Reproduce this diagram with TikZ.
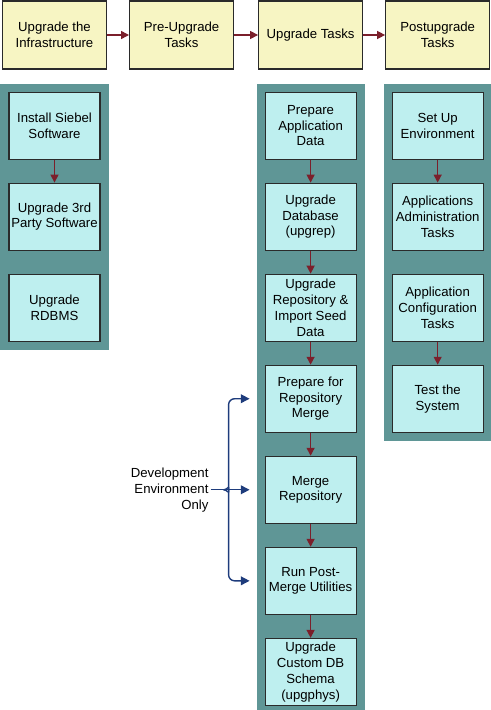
\documentclass[tikz,border=0pt]{standalone}
\usepackage{fontspec}
\setmainfont{Liberation Sans}
\usepackage{xcolor}
\definecolor{colPhase}{HTML}{F7F5C3}
\definecolor{colTask}{HTML}{BEEFEF}
\definecolor{colPanel}{HTML}{5F9696}
\definecolor{colEdge}{HTML}{2A2A2A}
\definecolor{colFlow}{HTML}{7B1F2B}
\definecolor{colDev}{HTML}{1E3C7C}
\usepackage{tikz}
\usetikzlibrary{arrows.meta, positioning, fit, backgrounds}
\tikzset{
    phasebox/.style={
        draw=colEdge, fill=colPhase, line width=0.6pt,
        minimum width=2.08cm, minimum height=1.36cm,
        inner sep=1pt, align=center
    },
    taskbox/.style={
        draw=colEdge, fill=colTask, line width=0.6pt,
        minimum width=1.82cm, minimum height=1.34cm,
        inner sep=1pt, align=center
    },
    panel/.style={fill=colPanel, draw=none, inner sep=0.16cm},
    flowarrow/.style={-{Triangle[length=4.5pt,width=4.5pt]}, line width=0.8pt, color=colFlow},
    devarrow/.style={-{Triangle[length=5pt,width=5pt]}, line width=0.8pt, color=colDev},
}

\begin{document}
\begin{tikzpicture}[font=\fontsize{7.5}{9.0}\selectfont, node distance=0.46cm and 0.45cm]
    \useasboundingbox (0,0) rectangle (9.8,-14.2);

    % phases across the top
    \node[phasebox] (infra) at (1.09,-0.70) {Upgrade the\\Infrastructure};
    \node[phasebox, right=0.44cm of infra] (preup) {Pre-Upgrade\\Tasks};
    \node[phasebox, right=0.48cm of preup] (upg) {Upgrade Tasks};
    \node[phasebox, right=0.44cm of upg] (postup) {Postupgrade\\Tasks};
    \draw[flowarrow] (infra) -- (preup);
    \draw[flowarrow] (preup) -- (upg);
    \draw[flowarrow] (upg) -- (postup);

    % infrastructure column
    \node[taskbox, below=0.44cm of infra] (inst) {Install Siebel\\Software};
    \node[taskbox, below=of inst] (third) {Upgrade 3rd\\Party Software};
    \node[taskbox, below=of third] (rdbms) {Upgrade\\RDBMS};

    % upgrade column
    \node[taskbox, below=0.44cm of upg] (appdata) {Prepare\\Application\\Data};
    \node[taskbox, below=of appdata] (upgrep) {Upgrade\\Database\\(upgrep)};
    \node[taskbox, below=of upgrep] (repo) {Upgrade\\Repository \&\\Import Seed\\Data};
    \node[taskbox, below=of repo] (prep) {Prepare for\\Repository\\Merge};
    \node[taskbox, below=of prep] (merge) {Merge\\Repository};
    \node[taskbox, below=of merge] (run) {Run Post-\\Merge Utilities};
    \node[taskbox, below=of run] (phys) {Upgrade\\Custom DB\\Schema\\(upgphys)};

    % postupgrade column
    \node[taskbox, below=0.44cm of postup] (env) {Set Up\\Environment};
    \node[taskbox, below=of env] (admin) {Applications\\Administration\\Tasks};
    \node[taskbox, below=of admin] (config) {Application\\Configuration\\Tasks};
    \node[taskbox, below=of config] (test) {Test the\\System};

    \begin{scope}[on background layer]
        \node[panel, fit=(inst)(rdbms)] (leftpanel) {};
        \node[panel, fit=(appdata)(phys)] (midpanel) {};
        \node[panel, fit=(env)(test)] (rightpanel) {};
    \end{scope}

    \draw[flowarrow] (inst) -- (third);
    \draw[flowarrow] (appdata) -- (upgrep);
    \draw[flowarrow] (upgrep) -- (repo);
    \draw[flowarrow] (repo) -- (prep);
    \draw[flowarrow] (prep) -- (merge);
    \draw[flowarrow] (merge) -- (run);
    \draw[flowarrow] (run) -- (phys);
    \draw[flowarrow] (env) -- (admin);
    \draw[flowarrow] (config) -- (test);

    % development only brace
    \coordinate (tip) at ([xshift=-0.82cm]merge.west);
    \node[align=right, inner sep=1pt, left=0.26cm of tip] (dev)
          {Development\\Environment\\Only};
    \draw[devarrow, rounded corners=0.12cm] (tip) to[out=0,in=-90] ++(0.1,0.15)
          |- ([xshift=-0.3cm]prep.west);
    \draw[devarrow, rounded corners=0.12cm] (tip) to[out=0,in=90] ++(0.1,-0.15)
          |- ([xshift=-0.3cm]run.west);
    \draw[devarrow] (dev.east) -- ([xshift=-0.3cm]merge.west);
\end{tikzpicture}
\end{document}
